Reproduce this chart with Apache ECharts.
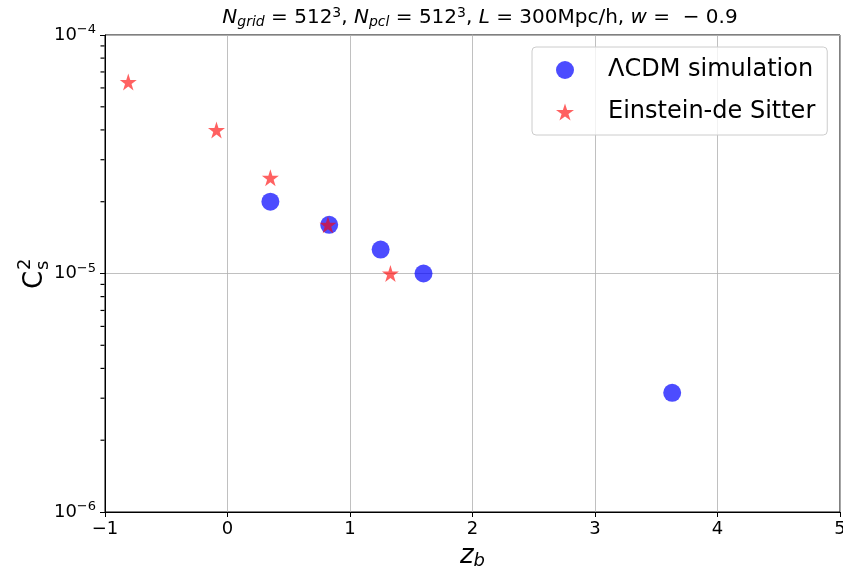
<!DOCTYPE html>
<html>
<head>
<meta charset="utf-8">
<script src="https://cdn.jsdelivr.net/npm/echarts@6/dist/echarts.min.js"></script>
<style>
html, body { margin: 0; padding: 0; background: #fff; }
#chart { width: 843px; height: 572px; }
</style>
</head>
<body>
<div id="chart"></div>
<script>
// values
var lcdmZ = [0.35, 0.83, 1.25, 1.60, 3.63];
var lcdmCs2 = [2.0e-5, 1.6e-5, 1.26e-5, 1.0e-5, 3.16e-6];
var edsZ = [-0.81, -0.09, 0.35, 0.82, 1.33];
var edsCs2 = [6.35e-5, 4.0e-5, 2.52e-5, 1.6e-5, 1.0e-5];
var xTicks = [-1, 0, 1, 2, 3, 4, 5];
var yDecades = [1e-6, 1e-5, 1e-4];
var yMinor = [2e-6, 3e-6, 4e-6, 5e-6, 6e-6, 7e-6, 8e-6, 9e-6,
              2e-5, 3e-5, 4e-5, 5e-5, 6e-5, 7e-5, 8e-5, 9e-5];

var FONT = 'DejaVu Sans';
var STAR = 'path://M0,-1L0.2245,-0.309L0.951,-0.309L0.363,0.118L0.588,0.809L0,0.382L-0.588,0.809L-0.363,0.118L-0.951,-0.309L-0.2245,-0.309Z';

function pairs(xs, ys) {
  return xs.map(function (x, i) { return [x, ys[i]]; });
}

var chart = echarts.init(document.getElementById('chart'));
var option = {
  animation: false,
  textStyle: { fontFamily: FONT },
  grid: { left: 105, right: 3, top: 35, bottom: 60, show: true, borderColor: '#000', borderWidth: 1,
    outerBoundsMode: 'none', containLabel: false },
  title: {
    left: 475, top: 1, textAlign: 'center',
    text: '{i|N}{sub|grid}{n| = 512}{sup|3}{n|, }{i|N}{sub|pcl}{n| = 512}{sup|3}{n|, }{i|L}{n| = 300Mpc/h, }{i|w}{n| =  − 0.9}',
    textStyle: {
      fontWeight: 'normal',
      rich: {
        n: { fontSize: 20, fontFamily: FONT, fontWeight: 'normal', color: '#000' },
        i: { fontSize: 20, fontFamily: FONT, fontWeight: 'normal', fontStyle: 'italic', color: '#000' },
        sub: { fontSize: 14, fontFamily: FONT, fontWeight: 'normal', fontStyle: 'italic', color: '#000', padding: [9, 0, 0, 0] },
        sup: { fontSize: 14, fontFamily: FONT, fontWeight: 'normal', color: '#000', padding: [0, 0, 10, 0] }
      }
    }
  },
  legend: {
    orient: 'vertical',
    left: 532, top: 47,
    itemWidth: 18, itemHeight: 18, itemGap: 18,
    padding: [11, 12, 11, 24],
    backgroundColor: 'rgba(255,255,255,0.8)',
    borderColor: '#cccccc', borderWidth: 1, borderRadius: 4,
    textStyle: { fontSize: 24, fontFamily: FONT, color: '#000', padding: [0, 0, 0, 29] },
    data: [
      { name: 'ΛCDM simulation', icon: 'circle' },
      { name: 'Einstein-de Sitter', icon: STAR }
    ]
  },
  xAxis: {
    type: 'value', min: -1, max: 5, interval: 1,
    axisLine: { onZero: false, lineStyle: { color: '#000' } },
    axisTick: { show: true, length: 5, lineStyle: { color: '#000' } },
    axisLabel: { fontSize: 18, color: '#000', margin: 8, fontFamily: FONT,
      formatter: function (v) { return v < 0 ? '−' + (-v) : String(v); } },
    splitLine: { show: true, lineStyle: { color: '#b0b0b0', width: 0.8 } },
    name: '{i|z}{sub|b}', nameLocation: 'middle', nameGap: 27,
    nameTextStyle: {
      rich: {
        i: { fontSize: 26, fontStyle: 'italic', fontFamily: FONT, color: '#000' },
        sub: { fontSize: 18, fontStyle: 'italic', fontFamily: FONT, color: '#000', padding: [10, 0, 0, 0] }
      }
    }
  },
  yAxis: {
    type: 'log', logBase: 10, min: 1e-6, max: 1e-4,
    axisLine: { onZero: false, lineStyle: { color: '#000' } },
    axisTick: { show: true, length: 5, lineStyle: { color: '#000' } },
    axisLabel: {
      margin: 9, color: '#000',
      formatter: function (v) {
        var e = Math.round(Math.log10(v));
        return '{b|10}{e|' + (e < 0 ? '−' + (-e) : e) + '}';
      },
      rich: {
        b: { fontSize: 18, fontFamily: FONT, color: '#000' },
        e: { fontSize: 13, fontFamily: FONT, color: '#000', padding: [0, 0, 10, 0] }
      }
    },
    splitLine: { show: true, lineStyle: { color: '#b0b0b0', width: 0.8 } }
  },
  graphic: [{
    type: 'group', x: 35, y: 272, rotation: Math.PI / 2,
    children: [
      { type: 'text', x: -8, y: 0, style: { text: 'C', font: '26px "DejaVu Sans"', fill: '#000', textAlign: 'center', textVerticalAlign: 'middle' } },
      { type: 'text', x: 2, y: -10, style: { text: '2', font: '18px "DejaVu Sans"', fill: '#000', textAlign: 'left', textVerticalAlign: 'middle' } },
      { type: 'text', x: 2, y: 8, style: { text: 's', font: '18px "DejaVu Sans"', fill: '#000', textAlign: 'left', textVerticalAlign: 'middle' } }
    ]
  }],
  series: [
    {
      name: 'minor-ticks', type: 'scatter', silent: true, clip: false, legendHoverLink: false,
      symbol: 'rect', symbolSize: [4, 1.2], symbolOffset: [-2.5, 0],
      itemStyle: { color: '#000', opacity: 1 },
      data: yMinor.map(function (v) { return [-1, v]; }),
      z: 5
    },
    {
      name: 'ΛCDM simulation', type: 'scatter', symbol: 'circle', symbolSize: 18,
      itemStyle: { color: 'rgba(0,0,255,0.7)', opacity: 1 },
      data: pairs(lcdmZ, lcdmCs2), z: 3
    },
    {
      name: 'Einstein-de Sitter', type: 'scatter', symbol: STAR, symbolSize: 17,
      itemStyle: { color: 'rgba(255,0,0,0.62)', opacity: 1 },
      data: pairs(edsZ, edsCs2), z: 4
    }
  ]
};
chart.setOption(option);
</script>
</body>
</html>
